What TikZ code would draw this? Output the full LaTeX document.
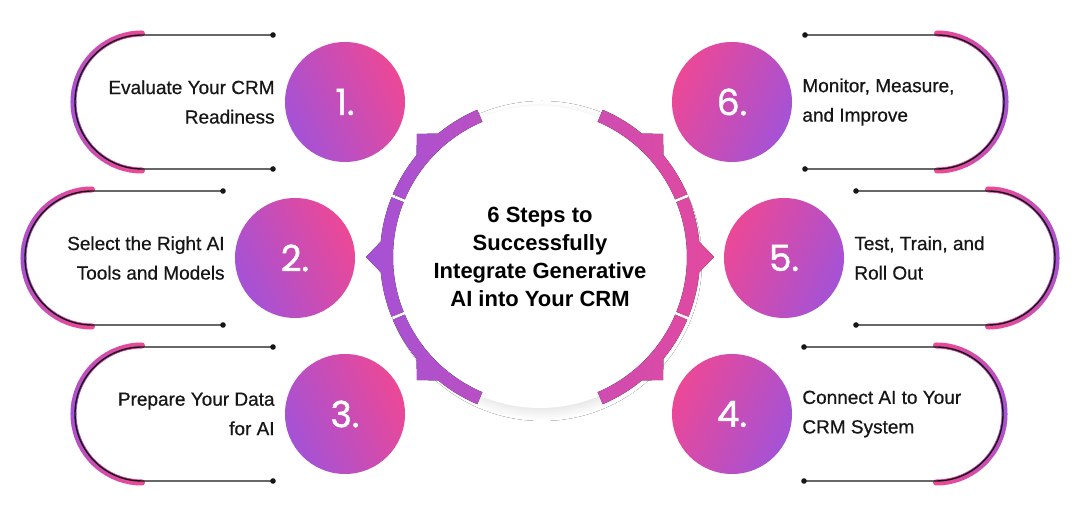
\documentclass[tikz,border=0pt]{standalone}
\usepackage{fontspec}
\setmainfont{Liberation Sans}
\newfontfamily\stepfont{Liberation Sans}[FakeBold=0.6]
\newfontfamily\numfont{Poppins}[FakeBold=1.2]
\usetikzlibrary{positioning,shadows.blur}
\definecolor{stepplum}{RGB}{164,82,214}
\definecolor{steprose}{RGB}{236,72,150}
\definecolor{inkgray}{RGB}{22,22,22}

\begin{document}
\begin{tikzpicture}[x=1pt, y=1pt,
  numdisc/.style={circle, minimum size=120pt, inner sep=0pt, text=white,
                  font=\numfont\fontsize{36}{36}\selectfont},
  leftdisc/.style={numdisc, top color=steprose, bottom color=stepplum, shading angle=-65},
  rightdisc/.style={numdisc, top color=steprose, bottom color=stepplum, shading angle=65},
  steptext/.style={inner sep=0pt, text=inkgray, font=\stepfont\fontsize{19}{29.5}\selectfont},
  hubdisc/.style={circle, minimum size=302pt, inner sep=0pt, fill=white, align=center,
                  text=black, font=\bfseries\fontsize{22}{28}\selectfont,
                  blur shadow={shadow blur steps=12, shadow xshift=2pt, shadow yshift=-4pt,
                               shadow blur radius=9pt, shadow opacity=12}},
  bracketline/.style={line width=1.4pt, color=inkgray}]
\fill[white] (0,0) rectangle (1080,510);
\useasboundingbox (0,0) rectangle (1080,510);

% centre disc and its ring
\node[hubdisc] (hub) at (540,253) {6 Steps to\\Successfully\\Integrate Generative\\AI into Your CRM};
\begin{scope}[shift={(hub.center)}]
  \clip \foreach \m in {135,180,225,-45,0,45}{
    (\m-21.9:147) arc[start angle=\m-21.9, end angle=\m+21.9, radius=147]
    -- (\m+21.9:160) arc[start angle=\m+21.9, end angle=\m+5.5, radius=160]
    -- (\m:174) -- (\m-5.5:160)
    arc[start angle=\m-5.5, end angle=\m-21.9, radius=160] -- cycle};
  \fill[left color=stepplum, right color=steprose!88!stepplum] (-180,-180) rectangle (180,180);
\end{scope}

% numbered discs
\node[leftdisc] (s1) at (345,408) {1.};
\node[leftdisc] (s2) at (295,252) {2.};
\node[leftdisc] (s3) at (345,96) {3.};
\node[rightdisc] (s4) at (732,96) {4.};
\node[rightdisc] (s5) at (784,252) {5.};
\node[rightdisc] (s6) at (732,408) {6.};

\node[steptext, align=right, left=10pt of s1] (t1) {Evaluate Your CRM\\Readiness};
\node[steptext, align=right, left=10pt of s2] (t2) {Select the Right AI\\Tools and Models};
\node[steptext, align=right, left=10pt of s3] (t3) {Prepare Your Data\\for AI};
\node[steptext, align=left, right=10pt of s4] (t4) {Connect AI to Your\\CRM System};
\node[steptext, align=left, right=10pt of s5] (t5) {Test, Train, and\\Roll Out};
\node[steptext, align=left, right=10pt of s6] (t6) {Monitor, Measure,\\and Improve};

% brackets on the left
\foreach \bx/\by in {142/408, 92/252, 142/96}{
  \foreach \i in {0,...,35}{
    \pgfmathsetmacro\mixv{abs(\i-17.5)/17.5*100}
    \draw[line width=6pt, line cap=round, color=steprose!\mixv!stepplum]
      ([shift={(\bx,\by)}]90+5*\i:68.5) arc[start angle=90+5*\i, end angle=95+5*\i, radius=68.5];
  }
  \draw[bracketline] (\bx+131,\by+67) -- (\bx,\by+67)
    arc[start angle=90, end angle=270, radius=67] -- (\bx+131,\by-67);
  \fill[inkgray] (\bx+131,\by+67) circle (2.8) (\bx+131,\by-67) circle (2.8);
}
% brackets on the right
\foreach \bx/\by in {937/408, 988/252, 936/96}{
  \foreach \i in {0,...,35}{
    \pgfmathsetmacro\mixv{abs(\i-17.5)/17.5*100}
    \draw[line width=6pt, line cap=round, color=steprose!\mixv!stepplum]
      ([shift={(\bx,\by)}]90-5*\i:68.5) arc[start angle=90-5*\i, end angle=85-5*\i, radius=68.5];
  }
  \draw[bracketline] (\bx-132,\by+67) -- (\bx,\by+67)
    arc[start angle=90, end angle=-90, radius=67] -- (\bx-132,\by-67);
  \fill[inkgray] (\bx-132,\by+67) circle (2.8) (\bx-132,\by-67) circle (2.8);
}
\end{tikzpicture}
\end{document}
